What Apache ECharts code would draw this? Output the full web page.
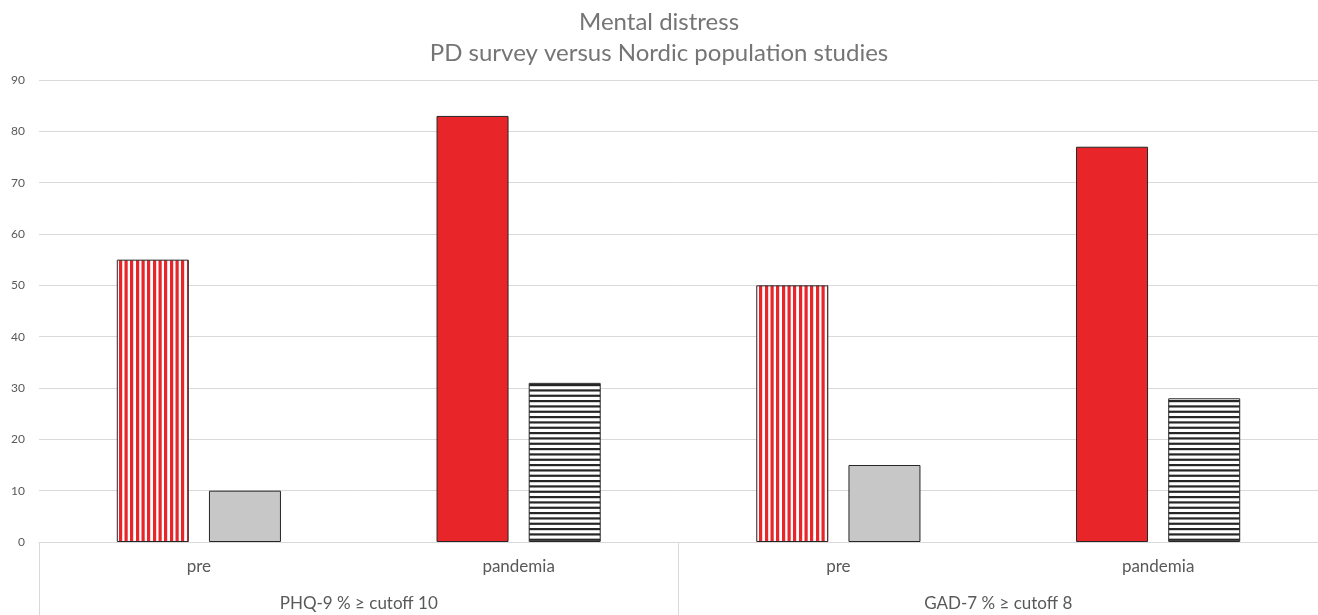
<!DOCTYPE html>
<html>
<head>
<meta charset="utf-8">
<script src="https://cdn.jsdelivr.net/npm/echarts@6/dist/echarts.min.js"></script>
<style>
  html, body { margin: 0; padding: 0; background: #fff; }
  #chart { width: 1318px; height: 615px; }
</style>
</head>
<body>
<div id="chart"></div>
<script>
// Sub-categories (inner axis) and groups (outer axis)
const periods = ['pre', 'pandemia', 'pre', 'pandemia'];
const groups = ['PHQ-9 % \u2265 cutoff 10', 'GAD-7 % \u2265 cutoff 8'];
// Percent above cutoff
const pdSurvey = [55, 83, 50, 77];
const nordicStudies = [10, 31, 15, 28];
const yTicks = { min: 0, max: 90, interval: 10 };

const FONT = 'Lato, "Open Sans", sans-serif';
const RED = '#e8262a';
const GREY = '#c7c7c8';
const INK = '#262626';

// Striped fills built on small canvases
function stripes(vertical, color, period, thick) {
  const reps = 3;
  const c = document.createElement('canvas');
  const size = Math.round(period * reps);
  c.width = vertical ? size : 4;
  c.height = vertical ? 4 : size;
  const g = c.getContext('2d');
  g.fillStyle = '#ffffff';
  g.fillRect(0, 0, c.width, c.height);
  g.fillStyle = color;
  for (let i = 0; i < reps; i++) {
    const p = i * period;
    if (vertical) g.fillRect(p, 0, thick, c.height);
    else g.fillRect(0, p, c.width, thick);
  }
  return { image: c, repeat: 'repeat' };
}

const redStripes = stripes(true, RED, 5.5, 3.2);
const blackStripes = stripes(false, INK, 5.33, 2.2);

// Fill for each bar by period: pre vs pandemia
const pdFill = [redStripes, RED, redStripes, RED];
const nordicFill = [GREY, blackStripes, GREY, blackStripes];

function styled(values, fills) {
  return values.map((v, i) => ({
    value: v,
    itemStyle: { color: fills[i], borderColor: INK, borderWidth: 1 }
  }));
}

const chart = echarts.init(document.getElementById('chart'), null, { renderer: 'canvas' });
chart.setOption({
  animation: false,
  backgroundColor: '#ffffff',
  title: {
    text: 'Mental distress\nPD survey versus Nordic population studies',
    left: 'center',
    top: 2,
    textStyle: {
      fontFamily: FONT, fontSize: 24, fontWeight: 'normal',
      color: '#757575', lineHeight: 31
    }
  },
  grid: { left: 39, right: -3, top: 80, bottom: 73, containLabel: false },
  xAxis: [
    {
      type: 'category',
      data: periods,
      position: 'bottom',
      axisLine: { show: true, lineStyle: { color: '#d9d9d9', width: 1 } },
      axisTick: { show: false },
      axisLabel: { fontFamily: FONT, fontSize: 17, color: '#595959', margin: 16 }
    },
    {
      type: 'category',
      data: groups,
      position: 'bottom',
      offset: 0,
      axisLine: { show: false },
      axisTick: { show: true, length: 73, lineStyle: { color: '#d9d9d9', width: 1 } },
      axisLabel: { fontFamily: FONT, fontSize: 17, color: '#595959', margin: 53 },
      splitLine: { show: false }
    }
  ],
  yAxis: {
    type: 'value',
    min: yTicks.min, max: yTicks.max, interval: yTicks.interval,
    axisLine: { show: false },
    axisTick: { show: false },
    axisLabel: { fontFamily: FONT, fontSize: 12, color: '#595959', margin: 14 },
    splitLine: { lineStyle: { color: '#d9d9d9', width: 1 } }
  },
  series: [
    {
      name: 'PD survey',
      type: 'bar',
      xAxisIndex: 0,
      barWidth: 72,
      barGap: '28%',
      data: styled(pdSurvey, pdFill)
    },
    {
      name: 'Nordic population studies',
      type: 'bar',
      xAxisIndex: 0,
      barWidth: 72,
      barGap: '28%',
      data: styled(nordicStudies, nordicFill)
    }
  ]
});
</script>
</body>
</html>
